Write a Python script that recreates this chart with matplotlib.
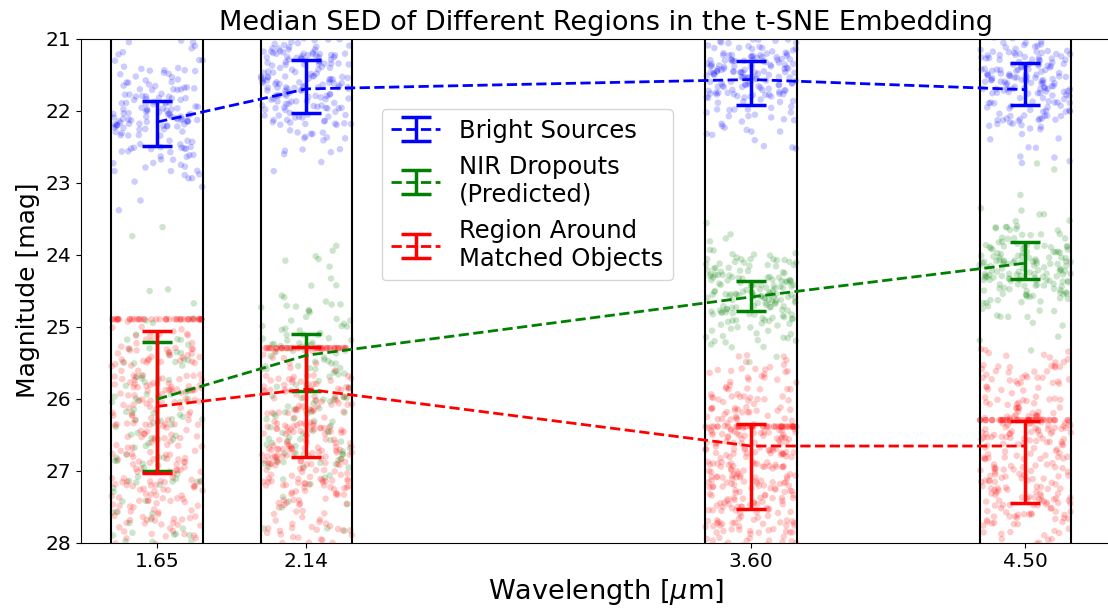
import matplotlib
matplotlib.use("Agg")
import matplotlib.pyplot as plt
import numpy as np

# band centres (micron) and half-width of each band window
wavelengths = [1.65, 2.14, 3.60, 4.50]
band_halfwidth = 0.15

# median magnitudes and the lower / upper ends of the error bars
bright_med = [22.16, 21.70, 21.57, 21.71]
bright_lo = [21.87, 21.30, 21.31, 21.34]
bright_hi = [22.49, 22.03, 21.92, 21.92]

dropout_med = [26.01, 25.40, 24.59, 24.12]
dropout_lo = [25.21, 25.11, 24.37, 23.83]
dropout_hi = [27.00, 25.90, 24.79, 24.34]

matched_med = [26.11, 25.87, 26.66, 26.66]
matched_lo = [25.06, 25.28, 26.35, 26.31]
matched_hi = [27.03, 26.81, 27.53, 27.45]

# individual sources: centre, spread and count per band
bright_cloud_mid = [22.15, 21.7, 21.5, 21.6]
bright_cloud_sd = [0.55, 0.45, 0.4, 0.45]
bright_cloud_n = [160, 190, 190, 190]

dropout_cloud_mid = [26.4, 25.9, 24.55, 24.2]
dropout_cloud_sd = [1.0, 0.85, 0.35, 0.4]
dropout_cloud_n = [110, 150, 170, 170]

matched_cloud_mid = [26.6, 26.8, 26.9, 26.8]
matched_cloud_sd = [1.1, 1.0, 0.9, 0.9]
matched_cloud_top = [24.9, 25.3, 25.4, 25.3]
matched_cloud_n = [300, 300, 360, 320]
# limiting magnitude rows where many sources pile up
matched_limit = [24.90, 25.30, 26.39, 26.30]
matched_limit_n = [45, 45, 45, 45]

rng = np.random.default_rng(7)


def draw_cloud(ax, mids, sds, counts, color, alpha, top=None):
    for i, w in enumerate(wavelengths):
        y = rng.normal(mids[i], sds[i], counts[i])
        if top is not None:
            y = y[y >= top[i]]
        x = w + rng.uniform(-band_halfwidth, band_halfwidth, len(y))
        ax.scatter(x, y, s=22, color=color, alpha=alpha, edgecolors="none", zorder=1)


fig = plt.figure(figsize=(11.08, 6.12), dpi=100)
ax = fig.add_axes([81 / 1108, 69.5 / 612, 0.9484, 504 / 612])

draw_cloud(ax, bright_cloud_mid, bright_cloud_sd, bright_cloud_n, "b", 0.2)
draw_cloud(ax, dropout_cloud_mid, dropout_cloud_sd, dropout_cloud_n, "g", 0.2)
draw_cloud(ax, matched_cloud_mid, matched_cloud_sd, matched_cloud_n, "r", 0.2,
           top=matched_cloud_top)
for i, w in enumerate(wavelengths):
    x = w + rng.uniform(-band_halfwidth, band_halfwidth, matched_limit_n[i])
    ax.scatter(x, np.full(matched_limit_n[i], matched_limit[i]), s=22, color="r",
               alpha=0.2, edgecolors="none", zorder=1)

for w in wavelengths:
    ax.axvline(w - band_halfwidth, color="k", lw=1.5, zorder=2)
    ax.axvline(w + band_halfwidth, color="k", lw=1.5, zorder=2)

series = [
    (bright_med, bright_lo, bright_hi, "b", "Bright Sources"),
    (dropout_med, dropout_lo, dropout_hi, "g", "NIR Dropouts\n(Predicted)"),
    (matched_med, matched_lo, matched_hi, "r", "Region Around\nMatched Objects"),
]
for med, lo, hi, c, label in series:
    med = np.array(med)
    yerr = [med - np.array(lo), np.array(hi) - med]
    ax.errorbar(wavelengths, med, yerr=yerr, fmt="--", color=c, lw=2,
                elinewidth=2.5, capsize=11, capthick=2.5, label=label, zorder=3)

ax.set_xlim(1.40, 4.85)
ax.set_ylim(28, 21)
ax.set_xticks(wavelengths)
ax.set_xticklabels(["%.2f" % w for w in wavelengths])
ax.set_yticks(range(21, 29))
ax.tick_params(labelsize=14.5)

ax.set_title("Median SED of Different Regions in the t-SNE Embedding", fontsize=19.5)
ax.set_xlabel(r"Wavelength [$\mu$m]", fontsize=19.5)
ax.set_ylabel("Magnitude [mag]", fontsize=18)

ax.legend(loc="upper left", bbox_to_anchor=(0.286, 0.86), borderaxespad=0,
          fontsize=17.5, framealpha=0.8)

fig.savefig("out.png", dpi=100)
